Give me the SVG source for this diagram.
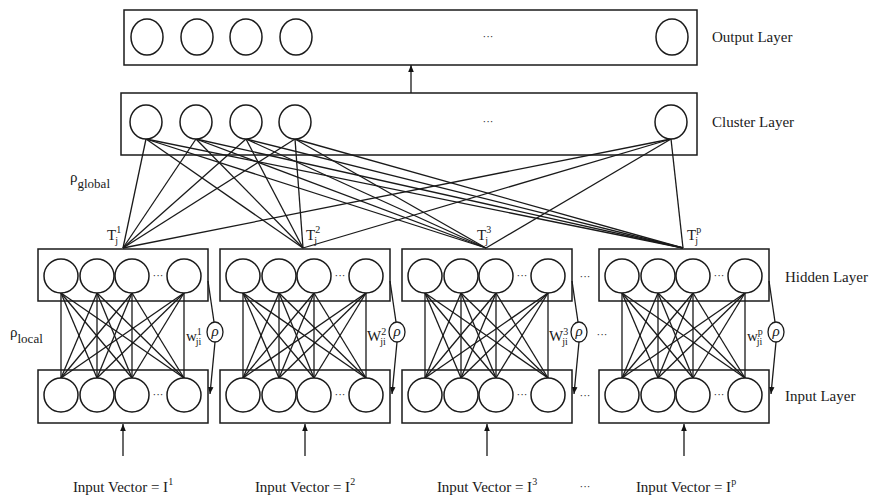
<svg xmlns="http://www.w3.org/2000/svg" width="878" height="499" viewBox="0 0 878 499">
<defs>
<marker id="ah" viewBox="0 0 10 10" refX="10" refY="5" markerWidth="7" markerHeight="8" orient="auto" markerUnits="userSpaceOnUse">
<path d="M0,1 L10,5 L0,9 z" fill="#111"/>
</marker>
</defs>
<style>
.box{fill:none;stroke:#1a1a1a;stroke-width:1.5}
.n{fill:#fff;stroke:#1a1a1a;stroke-width:1.5}
.e{stroke:#1a1a1a;stroke-width:1.3;fill:none}
.a{stroke:#1a1a1a;stroke-width:1.3;fill:none;marker-end:url(#ah)}
text{font-family:"Liberation Serif","Times New Roman",serif;font-size:15px;fill:#1a1a1a}
.sm{font-size:10px}
.sub{font-size:13px}
.dots{font-size:11px;text-anchor:middle}
.rho{fill:#fff;stroke:#1a1a1a;stroke-width:1.3}
</style>
<rect width="878" height="499" fill="#fff"/>

<g id="connectors">
<line class="a" x1="411" y1="93" x2="411" y2="65"/>
<g class="e">
<line x1="146" y1="139" x2="123" y2="248"/><line x1="146" y1="139" x2="303" y2="248"/><line x1="146" y1="139" x2="486" y2="248"/><line x1="146" y1="139" x2="683" y2="248"/>
<line x1="196" y1="139" x2="123" y2="248"/><line x1="196" y1="139" x2="303" y2="248"/><line x1="196" y1="139" x2="486" y2="248"/><line x1="196" y1="139" x2="683" y2="248"/>
<line x1="246" y1="139" x2="123" y2="248"/><line x1="246" y1="139" x2="303" y2="248"/><line x1="246" y1="139" x2="486" y2="248"/><line x1="246" y1="139" x2="683" y2="248"/>
<line x1="295" y1="139" x2="123" y2="248"/><line x1="295" y1="139" x2="303" y2="248"/><line x1="295" y1="139" x2="486" y2="248"/><line x1="295" y1="139" x2="683" y2="248"/>
<line x1="671" y1="139" x2="123" y2="248"/><line x1="671" y1="139" x2="303" y2="248"/><line x1="671" y1="139" x2="486" y2="248"/><line x1="671" y1="139" x2="683" y2="248"/>
</g>
<g class="e" id="mesh1" transform="translate(38,0)">
<line x1="23" y1="293" x2="23" y2="378"/><line x1="23" y1="293" x2="59" y2="378"/><line x1="23" y1="293" x2="94" y2="378"/><line x1="23" y1="293" x2="146" y2="378"/>
<line x1="59" y1="293" x2="23" y2="378"/><line x1="59" y1="293" x2="59" y2="378"/><line x1="59" y1="293" x2="94" y2="378"/><line x1="59" y1="293" x2="146" y2="378"/>
<line x1="94" y1="293" x2="23" y2="378"/><line x1="94" y1="293" x2="59" y2="378"/><line x1="94" y1="293" x2="94" y2="378"/><line x1="94" y1="293" x2="146" y2="378"/>
<line x1="146" y1="293" x2="23" y2="378"/><line x1="146" y1="293" x2="59" y2="378"/><line x1="146" y1="293" x2="94" y2="378"/><line x1="146" y1="293" x2="146" y2="378"/>
</g>
<use href="#mesh1" x="182"/>
<use href="#mesh1" x="364"/>
<use href="#mesh1" x="561"/>
<g id="fb1">
<line class="e" x1="208" y1="281" x2="214" y2="322"/>
<line class="a" x1="215" y1="342" x2="210" y2="394"/>
</g>
<use href="#fb1" x="182"/>
<use href="#fb1" x="364"/>
<use href="#fb1" x="561"/>
<line class="a" x1="123" y1="456" x2="123" y2="424"/>
<line class="a" x1="305" y1="456" x2="305" y2="424"/>
<line class="a" x1="487" y1="456" x2="487" y2="424"/>
<line class="a" x1="684" y1="456" x2="684" y2="424"/>
</g>

<g id="output-layer">
<rect class="box" x="124" y="10" width="573" height="55"/>
<ellipse class="n" cx="147" cy="37" rx="16" ry="18"/>
<ellipse class="n" cx="197" cy="37" rx="16" ry="18"/>
<ellipse class="n" cx="246" cy="37" rx="16" ry="18"/>
<ellipse class="n" cx="296" cy="37" rx="16" ry="18"/>
<ellipse class="n" cx="672" cy="37" rx="16" ry="18"/>
<text class="dots" x="488" y="40">···</text>
<text x="712" y="42">Output Layer</text>
</g>

<g id="cluster-layer">
<rect class="box" x="121" y="93" width="576" height="62"/>
<ellipse class="n" cx="146" cy="122" rx="16" ry="17"/>
<ellipse class="n" cx="196" cy="122" rx="16" ry="17"/>
<ellipse class="n" cx="246" cy="122" rx="16" ry="17"/>
<ellipse class="n" cx="295" cy="122" rx="16" ry="17"/>
<ellipse class="n" cx="671" cy="122" rx="16" ry="17"/>
<text class="dots" x="488" y="125">···</text>
<text x="712" y="127">Cluster Layer</text>
</g>

<g id="labels">
<text x="70" y="182">ρ<tspan class="sub" dy="6">global</tspan></text>
<text x="10" y="337">ρ<tspan class="sub" dy="6">local</tspan></text>
<text x="107" y="240">T<tspan class="sm" dy="-7">1</tspan><tspan class="sm" dx="-6" dy="11">j</tspan></text>
<text x="306" y="240">T<tspan class="sm" dy="-7">2</tspan><tspan class="sm" dx="-6" dy="11">j</tspan></text>
<text x="477" y="240">T<tspan class="sm" dy="-7">3</tspan><tspan class="sm" dx="-6" dy="11">j</tspan></text>
<text x="687" y="240">T<tspan class="sm" dy="-7">p</tspan><tspan class="sm" dx="-6" dy="11">j</tspan></text>
<text x="186" y="341">w<tspan class="sm" dy="-6">1</tspan><tspan class="sm" dx="-6" dy="10">ji</tspan></text>
<text x="367" y="341">W<tspan class="sm" dy="-6">2</tspan><tspan class="sm" dx="-6" dy="10">ji</tspan></text>
<text x="549" y="341">W<tspan class="sm" dy="-6">3</tspan><tspan class="sm" dx="-6" dy="10">ji</tspan></text>
<text x="747" y="341">w<tspan class="sm" dy="-6">p</tspan><tspan class="sm" dx="-6" dy="10">ji</tspan></text>
<text x="785" y="282">Hidden Layer</text>
<text x="785" y="401">Input Layer</text>
<text class="dots" x="585" y="280">···</text>
<text class="dots" x="602" y="338">···</text>
<text class="dots" x="585" y="399">···</text>
<text class="dots" x="585" y="490">···</text>
<text x="123" y="492" text-anchor="middle">Input Vector = I<tspan class="sm" dy="-7">1</tspan></text>
<text x="305" y="492" text-anchor="middle">Input Vector = I<tspan class="sm" dy="-7">2</tspan></text>
<text x="487" y="492" text-anchor="middle">Input Vector = I<tspan class="sm" dy="-7">3</tspan></text>
<text x="686" y="492" text-anchor="middle">Input Vector = I<tspan class="sm" dy="-7">p</tspan></text>
</g>

<g id="subsystem-1">
<g id="hidden-1">
<rect class="box" x="38" y="249" width="170" height="52"/>
<circle class="n" cx="61" cy="276" r="17"/><circle class="n" cx="97" cy="276" r="17"/><circle class="n" cx="132" cy="276" r="17"/><circle class="n" cx="184" cy="276" r="17"/>
<text class="dots" x="158" y="279">···</text>
</g>
<g id="input-1">
<rect class="box" x="38" y="370" width="170" height="53"/>
<circle class="n" cx="61" cy="395" r="17"/><circle class="n" cx="97" cy="395" r="17"/><circle class="n" cx="132" cy="395" r="17"/><circle class="n" cx="184" cy="395" r="17"/>
<text class="dots" x="158" y="398">···</text>
</g>
<g id="rho-1"><ellipse class="rho" cx="215" cy="332" rx="8" ry="10"/><text x="215" y="336" text-anchor="middle" font-size="12" font-style="italic">ρ</text></g>
</g>
<g id="subsystem-2">
<use href="#hidden-1" x="182"/><use href="#input-1" x="182"/><use href="#rho-1" x="182"/>
</g>
<g id="subsystem-3">
<use href="#hidden-1" x="364"/><use href="#input-1" x="364"/><use href="#rho-1" x="364"/>
</g>
<g id="subsystem-p">
<use href="#hidden-1" x="561"/><use href="#input-1" x="561"/><use href="#rho-1" x="561"/>
</g>
</svg>
